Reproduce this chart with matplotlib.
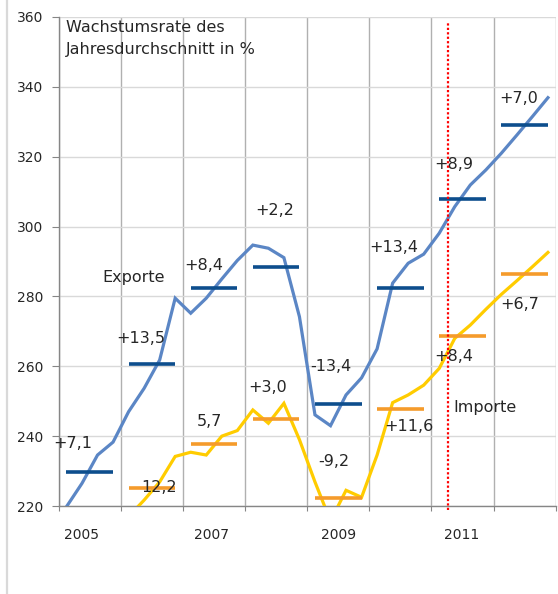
import numpy as np
import matplotlib
matplotlib.use('Agg')
from matplotlib import pyplot as plt

# quarterly index values 2005 Q1 .. 2012 Q4
exports = [219.8, 226.5, 234.6, 238.3, 247.0, 253.7, 261.8, 279.5,
           275.2, 279.5, 285.0, 290.3, 294.7, 293.8, 291.1, 274.2,
           246.1, 243.0, 251.8, 256.7, 265.0, 283.8, 289.5, 292.1,
           298.1, 305.7, 311.9, 316.2, 321.0, 326.2, 331.5, 336.9]
imports = [np.nan, np.nan, np.nan, np.nan, 217.0, 221.7, 226.9, 234.2,
           235.4, 234.6, 240.0, 241.6, 247.5, 243.7, 249.4, 239.0,
           226.9, 215.7, 224.5, 222.5, 234.6, 249.6, 251.8, 254.6,
           259.4, 268.0, 271.8, 276.3, 280.6, 284.5, 288.5, 292.6]

# Jahresdurchschnitte
export_avg = [229.8, 260.6, 282.5, 288.3, 249.2, 282.5, 307.8, 329.0]
import_avg = [np.nan, 225.2, 237.8, 244.9, 222.4, 247.7, 268.7, 286.4]

export_growth = ['+7,1', '+13,5', '+8,4', '+2,2', '-13,4', '+13,4', '+8,9', '+7,0']
import_growth = ['', '12,2', '5,7', '+3,0', '-9,2', '+11,6', '+8,4', '+6,7']

year_labels = ['2005', '2007', '2009', '2011']

# label positions (x in years from 2005, y in index units)
export_lbl_pos = [(0.23, 237.9), (1.32, 268.0), (2.33, 289.0), (3.475, 304.5),
                  (4.38, 259.9), (5.40, 294.1), (6.36, 317.9), (7.40, 336.7)]
import_lbl_pos = [(0, 0), (1.62, 225.4), (2.42, 244.3), (3.37, 253.9),
                  (4.43, 232.7), (5.64, 242.7), (6.36, 262.7), (7.42, 277.8)]
year_lbl_x = [0.36, 2.46, 4.5, 6.48]

txt_col = '#262626'
fig = plt.figure(figsize=(5.58, 5.94), dpi=100)
ax = fig.add_axes([0.1052, 0.1481, 0.8907, 0.8233])

x = (np.arange(len(exports)) + 0.5) / 4.0
ax.plot(x, exports, color='#5b86c5', lw=2.3, solid_joinstyle='miter', zorder=3)
ax.plot(x, imports, color='#ffcc00', lw=2.3, solid_joinstyle='miter', zorder=3)

yrs = np.arange(len(export_avg))
ax.hlines(export_avg, yrs + 0.125, yrs + 0.875, color='#0d4e8d', lw=2.6, zorder=4)
ax.hlines(import_avg, yrs + 0.125, yrs + 0.875, color='#f59b2b', lw=2.6, zorder=4)

for s, (px, py) in zip(export_growth, export_lbl_pos):
    ax.text(px, py, s, ha='center', va='center', fontsize=11.5, color=txt_col, zorder=5)
for s, (px, py) in zip(import_growth, import_lbl_pos):
    if s:
        ax.text(px, py, s, ha='center', va='center', fontsize=11.5, color=txt_col, zorder=5)

ax.text(1.21, 285.3, 'Exporte', ha='center', va='center', fontsize=11.5, color=txt_col)
ax.text(6.86, 248.2, 'Importe', ha='center', va='center', fontsize=11.5, color=txt_col)
ax.text(0.117, 359.0, 'Wachstumsrate des\nJahresdurchschnitt in %', ha='left', va='top',
        fontsize=11.5, color=txt_col, linespacing=1.55)

# Prognose-Grenze
ax.plot([6.27, 6.27], [218.8, 358.3], color='#ff0000', lw=1.6, ls=(0, (1, 1)),
        clip_on=False, zorder=6)

ax.set_xlim(0, 8)
ax.set_ylim(220, 360)
ax.set_yticks(np.arange(220, 361, 20))
ax.set_xticks(np.arange(0, 9))
ax.set_xticklabels([])
ax.set_xticks(year_lbl_x, minor=True)
ax.set_xticklabels(year_labels, minor=True)
ax.tick_params(axis='x', which='major', length=3.6, color='#868686', direction='out')
ax.tick_params(axis='x', which='minor', length=0, pad=16, labelsize=10, labelcolor=txt_col)
ax.tick_params(axis='y', length=5, pad=6, color='#868686', labelsize=10, labelcolor=txt_col)

ax.grid(axis='y', color='#d9d9d9', lw=1.0)
ax.grid(axis='x', which='major', color='#b0b0b0', lw=1.0)
ax.set_axisbelow(True)
for side in ['top', 'right']:
    ax.spines[side].set_visible(False)
for side in ['left', 'bottom']:
    ax.spines[side].set_color('#868686')
    ax.spines[side].set_linewidth(1.0)

# Rahmen links
fig.add_artist(plt.Line2D([7.0 / 558, 7.0 / 558], [0, 1], color='#d9d9d9', lw=1.6))

fig.savefig('out.png', dpi=100)
